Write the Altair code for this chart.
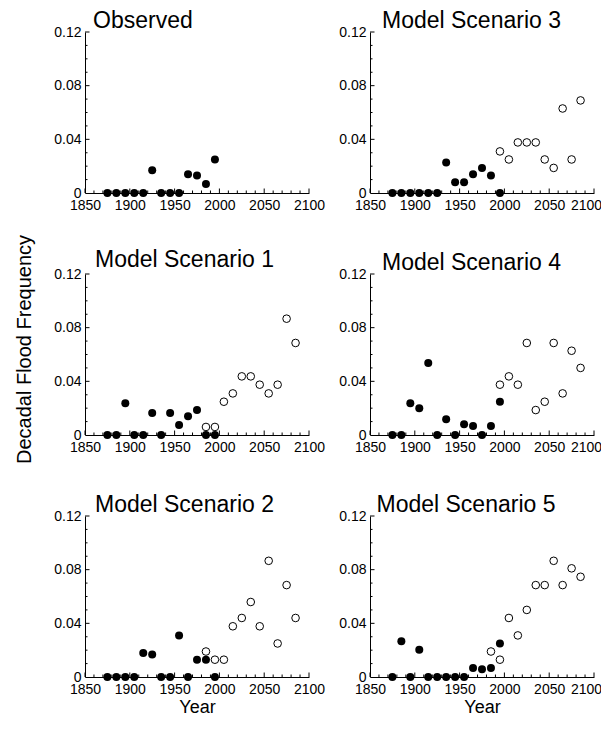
import altair as alt
import pandas as pd

FONT = "Liberation Sans"

# ---- data -------------------------------------------------------------
YEARS_HIST = [1875, 1885, 1895, 1905, 1915, 1925, 1935, 1945, 1955, 1965, 1975, 1985, 1995]
YEARS_FUT_85 = [1985, 1995, 2005, 2015, 2025, 2035, 2045, 2055, 2065, 2075, 2085]
YEARS_FUT_95 = [1995, 2005, 2015, 2025, 2035, 2045, 2055, 2065, 2075, 2085]

TITLES = ["Observed", "Model Scenario 3", "Model Scenario 1",
          "Model Scenario 4", "Model Scenario 2", "Model Scenario 5"]

OBS_HIST = [0, 0, 0, 0, 0, 0.017, 0, 0, 0, 0.014, 0.013, 0.0067, 0.025]

S3_HIST = [0, 0, 0, 0, 0, 0, 0.0227, 0.008, 0.008, 0.014, 0.0187, 0.013, 0]
S3_FUT = [0.031, 0.025, 0.0377, 0.0377, 0.0377, 0.025, 0.0187, 0.063, 0.025, 0.069]

S1_HIST = [0, 0, 0.0236, 0, 0, 0.0164, 0, 0.0164, 0.0075, 0.0139, 0.0186, 0, 0]
S1_FUT = [0.006, 0.006, 0.0248, 0.031, 0.0437, 0.0437, 0.0375, 0.031, 0.0375, 0.0867, 0.0686]

S4_HIST = [0, 0, 0.0236, 0.0199, 0.0537, 0, 0.0117, 0, 0.008, 0.0067, 0, 0.0067, 0.0248]
S4_FUT = [0.0375, 0.0437, 0.0375, 0.0686, 0.0186, 0.0248, 0.0686, 0.031, 0.0628, 0.05]

S2_HIST = [0, 0, 0, 0, 0.0178, 0.0168, 0, 0, 0.031, 0, 0.0129, 0.0129, 0]
S2_FUT = [0.019, 0.0129, 0.0129, 0.0378, 0.044, 0.0559, 0.0378, 0.0866, 0.025, 0.0685, 0.044]

S5_HIST = [0, 0.0267, 0, 0.0203, 0, 0, 0, 0, 0, 0.0067, 0.0057, 0.0067, 0.025]
S5_FUT = [0.019, 0.0129, 0.044, 0.031, 0.05, 0.0685, 0.0685, 0.0866, 0.0685, 0.081, 0.0747]

X_LABELS = [1850, 1900, 1950, 2000, 2050, 2100]
X_MINOR = [y for y in range(1860, 2100, 10) if y % 50 != 0]
Y_LABELS = [0, 0.04, 0.08, 0.12]
Y_MAJOR = [0.04, 0.08, 0.12]
Y_MINOR = [0.01, 0.02, 0.03, 0.05, 0.06, 0.07, 0.09, 0.10, 0.11]

W, H = 224, 161

# title text, historical (filled) values, future years, future (open) values,
# title x-shift, title y-shift
PANELS = [
    (TITLES[0], OBS_HIST, None, None, 8, 26),
    (TITLES[1], S3_HIST, YEARS_FUT_95, S3_FUT, 12, 26),
    (TITLES[2], S1_HIST, YEARS_FUT_85, S1_FUT, 10, 56),
    (TITLES[3], S4_HIST, YEARS_FUT_95, S4_FUT, 12, 26),
    (TITLES[4], S2_HIST, YEARS_FUT_85, S2_FUT, 10, 26),
    (TITLES[5], S5_HIST, YEARS_FUT_85, S5_FUT, 6.5, 26),
]

xs = alt.Scale(domain=[1850, 2100], nice=False, zero=False)
ys = alt.Scale(domain=[0, 0.12], nice=False, zero=False)


def panel(idx, title, hist, fut_years, fut_vals, dx, dy):
    bottom = idx >= 4
    mid_left = idx == 2
    right_col = idx % 2 == 1

    xaxis_kw = dict(values=X_LABELS, ticks=False, grid=False, labelFontSize=14,
                    labelPadding=5, domain=True, domainColor="black",
                    domainWidth=1, labelColor="black", labelFont=FONT,
                    labelExpr="format(datum.value, 'd')",
                    labelFlush=False, labelOverlap=False)
    if right_col:
        xaxis_kw.update(labelOffset={"condition": {"test": "datum.value == 2100",
                                                   "value": -8},
                                     "value": 0})
    if bottom:
        xaxis_kw.update(title="Year", titleFontSize=18, titleFont=FONT,
                        titleFontWeight="normal", titleColor="black",
                        titleY=35, titleBaseline="alphabetic")
    else:
        xaxis_kw.update(title="")

    yaxis_kw = dict(values=Y_LABELS, ticks=False, grid=False, labelFontSize=14,
                    labelPadding=4, domain=True, domainColor="black",
                    domainWidth=1, labelColor="black", labelFont=FONT,
                    labelExpr="datum.value == 0 ? '0' : format(datum.value, '.2f')",
                    labelFlush=False, labelOverlap=False)
    if mid_left:
        yaxis_kw.update(title="Decadal Flood Frequency", titleFontSize=20,
                        titleFont=FONT, titleFontWeight="normal",
                        titleColor="black", titleX=-55, titleY=75,
                        titleBaseline="alphabetic", titleAngle=270,
                        titleAlign="center")
    else:
        yaxis_kw.update(title="")

    xa = alt.Axis(**xaxis_kw)
    ya = alt.Axis(**yaxis_kw)

    df_h = pd.DataFrame({"year": YEARS_HIST, "freq": hist})
    filled = alt.Chart(df_h).mark_point(
        shape="circle", filled=True, color="black", size=64, opacity=1
    ).encode(
        x=alt.X("year:Q", scale=xs, axis=xa),
        y=alt.Y("freq:Q", scale=ys, axis=ya),
    )

    # inward tick marks placed through the scales
    xmaj = alt.Chart(pd.DataFrame({"year": X_LABELS})).mark_rule(
        color="black", strokeWidth=1).encode(
        x=alt.X("year:Q", scale=xs, axis=xa),
        y=alt.value(H), y2=alt.value(H - 4.5))
    xmin = alt.Chart(pd.DataFrame({"year": X_MINOR})).mark_rule(
        color="black", strokeWidth=1).encode(
        x=alt.X("year:Q", scale=xs, axis=xa),
        y=alt.value(H), y2=alt.value(H - 2.5))
    ymaj = alt.Chart(pd.DataFrame({"freq": Y_MAJOR})).mark_rule(
        color="black", strokeWidth=1).encode(
        y=alt.Y("freq:Q", scale=ys, axis=ya),
        x=alt.value(0), x2=alt.value(4.5))
    ymin = alt.Chart(pd.DataFrame({"freq": Y_MINOR})).mark_rule(
        color="black", strokeWidth=1).encode(
        y=alt.Y("freq:Q", scale=ys, axis=ya),
        x=alt.value(0), x2=alt.value(2.5))

    layers = [filled, xmaj, xmin, ymaj, ymin]

    if fut_years is not None:
        df_f = pd.DataFrame({"year": fut_years, "freq": fut_vals})
        opn = alt.Chart(df_f).mark_point(
            shape="circle", filled=False, color="black", size=58,
            strokeWidth=1, opacity=1
        ).encode(
            x=alt.X("year:Q", scale=xs, axis=xa),
            y=alt.Y("freq:Q", scale=ys, axis=ya),
        )
        layers.append(opn)

    return alt.layer(*layers).properties(
        width=W, height=H,
        title=alt.TitleParams(text=title, anchor="start", frame="group",
                              dx=dx, dy=dy, offset=0, fontSize=23, font=FONT,
                              fontWeight="normal", color="black",
                              baseline="alphabetic"),
    )


charts = [panel(i, *p) for i, p in enumerate(PANELS)]

chart = alt.concat(
    *charts, columns=2, spacing={"row": 81, "column": 61}, bounds="flush"
).properties(
    padding={"left": 5, "top": 2, "right": -1, "bottom": -3},
    background="white",
).configure_view(strokeWidth=0, stroke=None)

chart.save("out.html", embed_options={"renderer": "svg", "actions": False})
